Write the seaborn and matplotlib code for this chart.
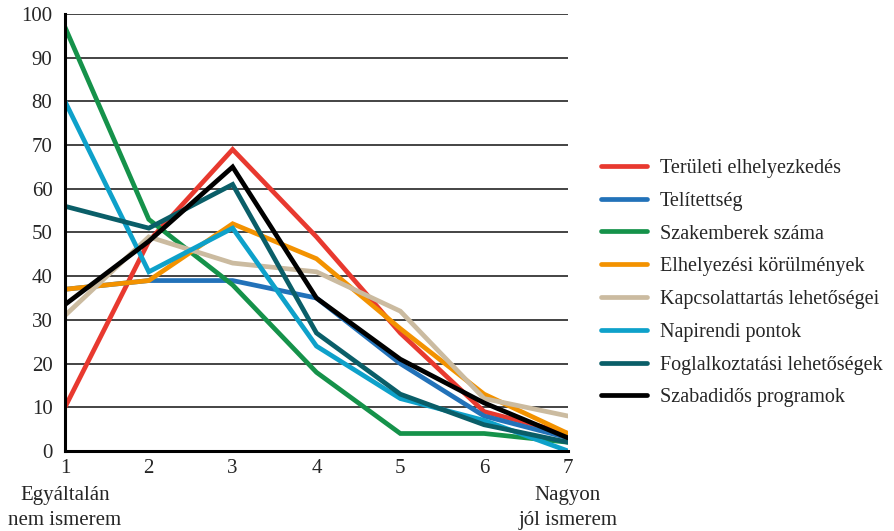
import seaborn as sns
import matplotlib.pyplot as plt
import pandas as pd

sns.set_style("white")
plt.rcParams["font.family"] = ["Liberation Serif", "DejaVu Serif"]

levels = [1, 2, 3, 4, 5, 6, 7]
series_names = [
    "Területi elhelyezkedés",
    "Telítettség",
    "Szakemberek száma",
    "Elhelyezési körülmények",
    "Kapcsolattartás lehetőségei",
    "Napirendi pontok",
    "Foglalkoztatási lehetőségek",
    "Szabadidős programok",
]
teruleti = [10, 48, 69, 49, 27, 9, 4]
telitettseg = [37, 39, 39, 35, 20, 8, 3]
szakemberek = [97, 53, 38, 18, 4, 4, 2]
elhelyezesi = [37, 39, 52, 44, 28, 13, 4]
kapcsolattartas = [31, 49, 43, 41, 32, 12, 8]
napirendi = [80, 41, 51, 24, 12, 7, 0]
foglalkoztatasi = [56, 51, 61, 27, 13, 6, 2]
szabadidos = [33.5, 48, 65, 35, 21, 11, 3]
colors = ["#e8392f", "#2272b9", "#15924a", "#f39200",
          "#cbbba0", "#0ea1ca", "#0a5e68", "#000000"]
low_label = "Egyáltalán\nnem ismerem"
high_label = "Nagyon\njól ismerem"

all_values = [teruleti, telitettseg, szakemberek, elhelyezesi,
              kapcsolattartas, napirendi, foglalkoztatasi, szabadidos]
rows = []
for name, vals in zip(series_names, all_values):
    for lvl, v in zip(levels, vals):
        rows.append({"level": lvl, "value": v, "series": name})
df = pd.DataFrame(rows)

fig = plt.figure(figsize=(8.95, 5.31), dpi=100)
ax = fig.add_axes([0.0726, 0.1507, 0.562, 0.8229])

sns.lineplot(data=df, x="level", y="value", hue="series", hue_order=series_names,
             palette=dict(zip(series_names, colors)), linewidth=3.4, ax=ax,
             solid_capstyle="round", solid_joinstyle="miter", legend=False)

ax.set_xlim(1, 7)
ax.set_ylim(0, 100)
ax.set_yticks(range(0, 101, 10))
ax.set_xticks(levels)
ax.yaxis.grid(True, color="#111111", linewidth=1.1)
ax.set_axisbelow(True)
ax.tick_params(axis="y", length=8, width=1.1, color="#111111", labelsize=15, pad=1)
ax.tick_params(axis="x", length=0, labelsize=15, pad=6)
for s in ["top", "right"]:
    ax.spines[s].set_visible(False)
for s in ["left", "bottom"]:
    ax.spines[s].set_color("black")
    ax.spines[s].set_linewidth(2.2)
ax.set_xlabel("")
ax.set_ylabel("")

# end-point descriptions under the first and last tick
trans = ax.get_xaxis_transform()
ax.text(levels[0], -0.13, low_label, transform=trans, ha="center", va="center",
        fontsize=15, linespacing=1.45)
ax.text(levels[-1], -0.13, high_label, transform=trans, ha="center", va="center",
        fontsize=15, linespacing=1.45)

handles = [plt.Line2D([0], [0], color=c, linewidth=3.4, solid_capstyle="round")
           for c in colors]
fig.legend(handles, series_names, loc="upper left", bbox_to_anchor=(0.663, 0.716),
           frameon=False, fontsize=14.5, handlelength=2.25, handletextpad=0.65,
           labelspacing=0.68, borderaxespad=0)

fig.savefig("out.png", dpi=100)
plt.close(fig)
